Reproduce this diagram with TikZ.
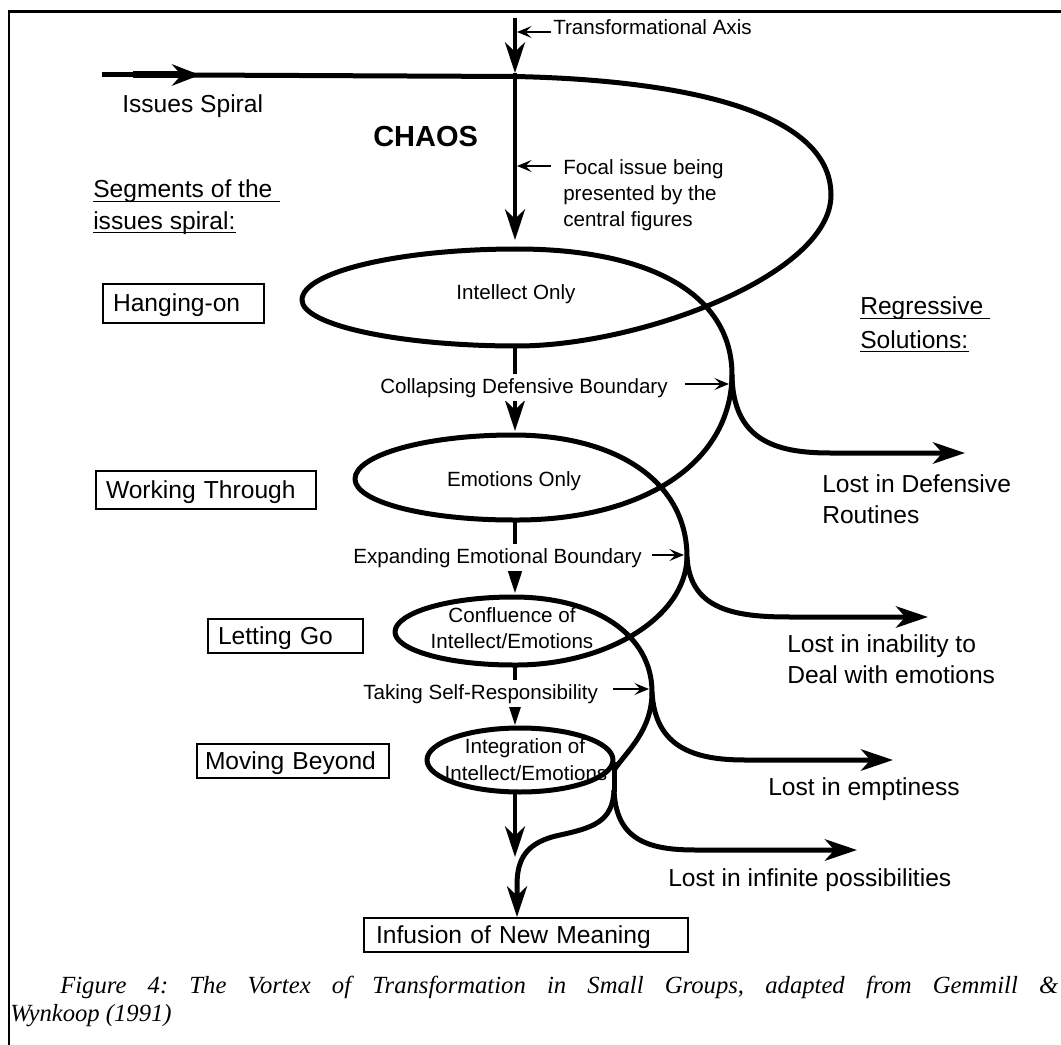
\documentclass[tikz,border=0pt]{standalone}
\usepackage{fontspec}
\setmainfont{Liberation Sans}
\newfontfamily\capfont{Liberation Serif}
\usetikzlibrary{arrows.meta}
\frenchspacing
\begin{document}
\begin{tikzpicture}[x=0.75pt,y=-0.75pt,
  spiral/.style={line width=3.75pt, line join=round},
  axisline/.style={line width=3pt},
  axisarr/.style={axisline, -{Stealth[length=23pt,width=15pt,inset=7pt]}},
  lostarr/.style={spiral, -{Stealth[length=24pt,width=16pt,inset=7pt]}},
  pointer/.style={line width=1.9pt, -{Stealth[length=11pt,width=9pt,inset=4.5pt]}},
  small/.style={font=\fontsize{15.45pt}{19pt}\selectfont, inner sep=0pt},
  big/.style={font=\fontsize{18.45pt}{24pt}\selectfont, inner sep=0pt},
  stagebox/.style={draw, line width=1.5pt, big, anchor=north west, align=left,
    inner xsep=7.5pt, inner ysep=0pt, text height=13.5pt, text depth=1.5pt},
  ulinestyle/.style={line width=1.2pt},
  gapfill/.style={fill=white, inner ysep=3pt},
  capstyle/.style={anchor=base west, inner sep=0pt, font=\capfont\itshape\fontsize{18.5pt}{22pt}\selectfont}
]
\useasboundingbox (0,0) rectangle (1061,1045);

% frame
\draw[line width=2.25pt] (8,12) -- (1061,12);
\draw[line width=1.5pt] (9,11) -- (9,1045);

% stage boxes
\node[stagebox, minimum height=29.25pt, text width=105.75pt] (hang) at (102,283) {Hanging-on};
\node[stagebox, minimum height=28.5pt, text width=150pt] (work) at (95,470) {Working Through};
\node[stagebox, minimum height=25.5pt, text width=101.25pt] (letgo) at (207,618) {Letting Go};
\node[stagebox, minimum height=25.5pt, text width=132pt, inner xsep=6pt] (moving) at (196,743) {Moving Beyond};
\node[stagebox, minimum height=25.5pt, text width=225pt, inner xsep=9pt] (inf) at (363,917) {Infusion of New Meaning};

% axis coordinates
\coordinate (axTop) at (515,18);
\coordinate (axCross) at (515,73);
\coordinate (intT) at (515,240);
\coordinate (intB) at (515,348);
\coordinate (emoT) at (515,431);
\coordinate (emoB) at (515,522);
\coordinate (conT) at (515,593);
\coordinate (conB) at (515,667);
\coordinate (itgT) at (515,725);
\coordinate (itgB) at (515,794);
\coordinate (newA) at (515,857);

% issues spiral start
\draw[line width=5.25pt] (133,75) -- (185,75);
\draw[spiral, -{Stealth[length=21pt,width=16pt,inset=7pt]}] (102,75) -- (200,75);

% main spiral
\draw[spiral] (190,75) -- (515,76.5)
  .. controls (680,80) and (831,110) .. (831,195)
  .. controls (831,275) and (640,346) .. (517,346)
  .. controls (399,346) and (302,325) .. (302,300)
  .. controls (302,272) and (399,249) .. (517,249)
  .. controls (646,249) and (732,292) .. (732,375)
  .. controls (731,465) and (640,521) .. (513,520)
  .. controls (426,520) and (355,502) .. (355,479)
  .. controls (355,455) and (426,435) .. (513,435)
  .. controls (617,435) and (687,482) .. (687,557)
  .. controls (686,618) and (605,666) .. (513,665)
  .. controls (448,665) and (395,650) .. (395,632)
  .. controls (395,613) and (448,597) .. (513,597)
  .. controls (596,597) and (652,635) .. (652,692)
  .. controls (652,730) and (628,750) .. (614,770);

% integration loop and tail
\draw[spiral] (520,760) ellipse [x radius=93, y radius=32];
\draw[spiral] (614,762) -- (614,792);

% regressive branches
\coordinate (br1) at (732,375);
\coordinate (br2) at (687,557);
\coordinate (br3) at (652,692);
\coordinate (br4) at (614,790);
\coordinate (end1) at (965,453);
\coordinate (end2) at (928,617);
\coordinate (end3) at (893,760);
\coordinate (end4) at (857,850);
\draw[lostarr] (br1) .. controls (733,440) and (775,453) .. (830,453) -- (end1);
\draw[lostarr] (br2) .. controls (690,610) and (735,617) .. (790,617) -- (end2);
\draw[lostarr] (br3) .. controls (655,748) and (695,760) .. (745,760) -- (end3);
\draw[lostarr] (br4) .. controls (616,838) and (645,850) .. (695,850) -- (end4);
\draw[spiral, -{Stealth[length=23pt,width=15pt,inset=7pt]}] (br4) .. controls (613,822) and (592,828) .. (560,835) .. controls (527,842) and (517,858) .. (517,885) -- (inf.north -| 517,0);

% transformational axis
\draw[axisarr] (axTop) -- (axCross);
\draw[axisarr] (axCross) -- (intT);
\draw[axisarr] (intB) -- (emoT);
\draw[axisarr] (emoB) -- (conT);
\draw[axisarr] (conB) -- (itgT);
\draw[axisarr] (itgB) -- (newA);

% labels
\node[small, anchor=base west] (ta) at (553,35) {Transformational Axis};
\node[big, anchor=base west] (iss) at (122,113) {Issues Spiral};
\node[font=\fontsize{21.75pt}{26pt}\selectfont\bfseries, inner sep=0pt, anchor=base west] (chaos) at (373,147) {CHAOS};
\node[big, anchor=base west] (seg1) at (93,198) {Segments of the\ \mbox{}};
\node[big, anchor=base west] (seg2) at (93,229) {issues spiral:};
\node[small, anchor=base west] (foc1) at (563,175) {Focal issue being};
\node[small, anchor=base west] (foc2) at (563,201) {presented by the};
\node[small, anchor=base west] (foc3) at (563,227) {central figures};
\node[small, anchor=base] (intel) at (516,300) {Intellect Only};
\node[small, gapfill, anchor=base west] (coll) at (380,393) {Collapsing Defensive Boundary};
\node[big, anchor=base west] (reg1) at (860,315) {Regressive\ \mbox{}};
\node[big, anchor=base west] (reg2) at (860,348) {Solutions:};
\node[big, anchor=base west] (lost1a) at (822,492) {Lost in Defensive};
\node[big, anchor=base west] (lost1b) at (822,523) {Routines};
\node[small, anchor=base] (emo) at (514,486) {Emotions Only};
\node[small, gapfill, anchor=base west] (expa) at (353,563) {Expanding Emotional Boundary};
\node[small, anchor=base] (conf1) at (512,622) {Confluence of};
\node[small, anchor=base] (conf2) at (512,648) {Intellect/Emotions};
\node[big, anchor=base west] (lost2a) at (787,652) {Lost in inability to};
\node[big, anchor=base west] (lost2b) at (787,683) {Deal with emotions};
\node[small, gapfill, anchor=base west] (take) at (363,699) {Taking Self-Responsibility};
\node[small, anchor=base] (integ1) at (525,753) {Integration of};
\node[small, anchor=base] (integ2) at (526,780) {Intellect/Emotions};
\node[big, anchor=base west] (lost3) at (768,795) {Lost in emptiness};
\node[big, anchor=base west] (lost4) at (668,886) {Lost in infinite possibilities};

% underlines
\draw[ulinestyle] ([yshift=-2.5pt]seg1.base west) -- ([yshift=-2.5pt]seg1.base east);
\draw[ulinestyle] ([yshift=-2.5pt]seg2.base west) -- ([yshift=-2.5pt]seg2.base east);
\draw[ulinestyle] ([yshift=-2.5pt]reg1.base west) -- ([yshift=-2.5pt]reg1.base east);
\draw[ulinestyle] ([yshift=-2.5pt]reg2.base west) -- ([yshift=-2.5pt]reg2.base east);

% pointers
\coordinate (taS) at (551,32);   \coordinate (taE) at (517,32);
\coordinate (focS) at (551,166); \coordinate (focE) at (517,166);
\coordinate (colS) at (685,384); \coordinate (colE) at (729,384);
\coordinate (expS) at (652,555); \coordinate (expE) at (684,555);
\coordinate (takS) at (613,689); \coordinate (takE) at (649,689);
\draw[pointer] (taS) -- (taE);
\draw[pointer] (focS) -- (focE);
\draw[pointer] (colS) -- (colE);
\draw[pointer] (expS) -- (expE);
\draw[pointer] (takS) -- (takE);

% caption
\node[capstyle] (cap1) at (60,993)
  {\makebox[748.5pt][s]{Figure 4: The Vortex of Transformation in Small Groups, adapted from Gemmill \&}};
\node[capstyle] (cap2) at (10,1021) {Wynkoop (1991)};
\end{tikzpicture}
\end{document}
